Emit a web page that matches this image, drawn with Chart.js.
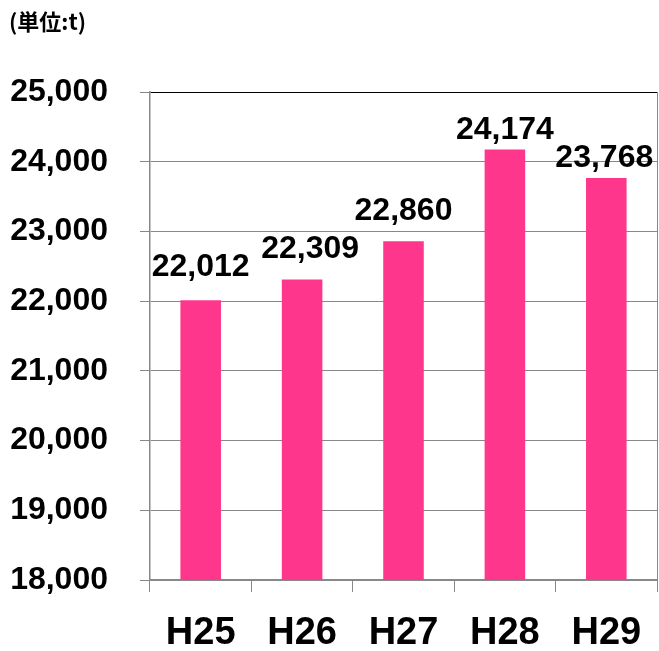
<!DOCTYPE html>
<html>
<head>
<meta charset="utf-8">
<script src="https://cdn.jsdelivr.net/npm/chart.js@4/dist/chart.umd.min.js"></script>
<style>
html,body{margin:0;padding:0;background:#fff;}
#wrap{width:659px;height:651px;position:relative;}
</style>
</head>
<body>
<div id="wrap"><canvas id="c"></canvas></div>
<script>
const categories = ['H25', 'H26', 'H27', 'H28', 'H29'];
const values = [22012, 22309, 22860, 24174, 23768];
const unitLabel = '(単位:t)';
const yMin = 18000, yMax = 25000, yStep = 1000;

const NUM_FONT = "'Liberation Sans', Arial, sans-serif";

const unitTitle = {
  id: 'unitTitle',
  afterDraw(chart) {
    const ctx = chart.ctx;
    ctx.save();
    ctx.font = "bold 22px 'Noto Sans CJK JP', sans-serif";
    ctx.fillStyle = '#000';
    ctx.textAlign = 'left';
    ctx.textBaseline = 'middle';
    ctx.fillText(unitLabel, 9, 22);
    ctx.restore();
  }
};

const valueLabels = {
  id: 'valueLabels',
  afterDatasetsDraw(chart, args, opts) {
    const ctx = chart.ctx;
    const meta = chart.getDatasetMeta(0);
    ctx.save();
    ctx.font = "bold 32px " + NUM_FONT;
    ctx.fillStyle = '#000';
    ctx.textAlign = 'center';
    ctx.textBaseline = 'alphabetic';
    meta.data.forEach((bar, i) => {
      const v = chart.data.datasets[0].data[i];
      const dx = (opts.dx && opts.dx[i]) || 0;
      const gap = (opts.gap && opts.gap[i] != null) ? opts.gap[i] : 12;
      ctx.fillText(v.toLocaleString('en-US'), bar.x + dx, bar.y - gap);
    });
    ctx.restore();
  }
};

new Chart(document.getElementById('c'), {
  type: 'bar',
  data: {
    labels: categories,
    datasets: [{
      data: values,
      backgroundColor: '#ff378c',
      borderWidth: 0,
      barPercentage: 0.4,
      categoryPercentage: 1.0
    }]
  },
  options: {
    responsive: true,
    maintainAspectRatio: false,
    animation: false,
    layout: { padding: { top: 92, left: 0, right: 2, bottom: 0 } },
    plugins: {
      legend: { display: false },
      tooltip: { enabled: false },
      title: { display: false },
      valueLabels: { gap: [24, 22, 21, 11, 11], dx: [0, 8, 0, 0, -2] }
    },
    scales: {
      x: {
        grid: {
          display: true,
          drawOnChartArea: false,
          drawTicks: true,
          tickLength: 12,
          tickColor: '#888',
          offset: true
        },
        border: { display: true, color: '#888', width: 1.5 },
        ticks: {
          color: '#000',
          padding: 0,
          font: { family: NUM_FONT, size: 38, weight: 'bold', lineHeight: 2.16 }
        },
        afterFit(scale) { scale.height = 71; }
      },
      y: {
        min: yMin,
        max: yMax,
        grid: {
          color: (c) => (c.tick && c.tick.value === yMax) ? '#000' : '#888',
          tickColor: '#888',
          tickLength: 10,
          lineWidth: 1
        },
        border: { display: true, color: '#888', width: 1.5 },
        ticks: {
          stepSize: yStep,
          color: '#000',
          padding: 32,
          font: { family: NUM_FONT, size: 32, weight: 'bold', lineHeight: 1.2 },
          callback: (v) => Number(v).toLocaleString('en-US')
        },
        afterFit(scale) { scale.width = 150; }
      },
      y2: {
        position: 'right',
        min: yMin,
        max: yMax,
        grid: { display: false, drawOnChartArea: false, drawTicks: false },
        border: { display: true, color: '#888', width: 1 },
        ticks: { display: false },
        afterFit(scale) { scale.width = 0; }
      }
    }
  },
  plugins: [unitTitle, valueLabels]
});
</script>
</body>
</html>
